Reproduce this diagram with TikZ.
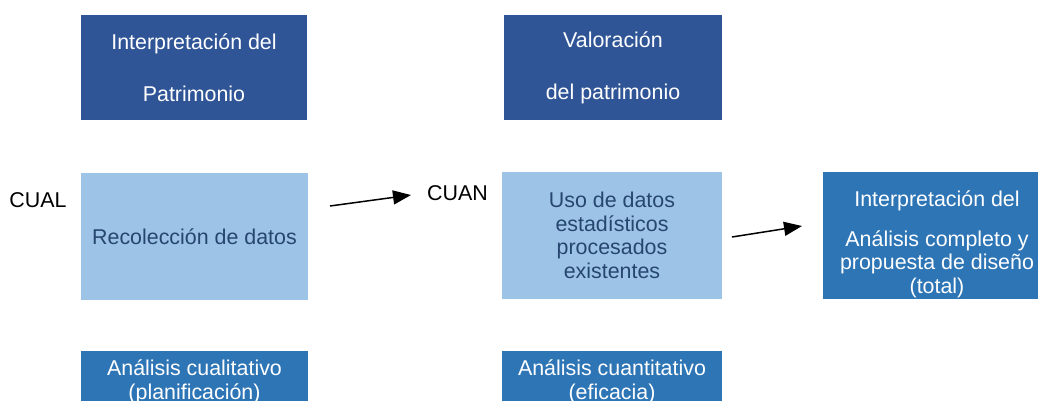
\documentclass[tikz,border=0pt]{standalone}
\usepackage{fontspec}
\setmainfont{Liberation Sans}
\usetikzlibrary{positioning}
\usetikzlibrary{arrows.meta}

\definecolor{darkbox}{RGB}{47,85,151}
\definecolor{lightbox}{RGB}{157,195,230}
\definecolor{midbox}{RGB}{46,117,182}
\definecolor{lighttext}{RGB}{38,70,112}

\begin{document}
\begin{tikzpicture}[x=1pt, y=-1pt,
		box/.style={rectangle, inner sep=0pt, align=center, text=white,
			font=\fontsize{21.4}{23.5}\selectfont},
		topbox/.style={box, fill=darkbox, minimum height=105pt},
		databox/.style={box, fill=lightbox, text=lighttext, minimum height=127pt},
		resbox/.style={box, fill=midbox, minimum height=127pt},
		lowbox/.style={box, fill=midbox, minimum height=62pt},
		tag/.style={font=\fontsize{21.4}{23.5}\selectfont, inner sep=0pt},
		flow/.style={line width=1.5pt, -{Triangle[length=18pt,width=14pt]}}]
				\useasboundingbox (0,0) rectangle (1038,401);
				
				\node[topbox, minimum width=226pt] (interp) at (194,67.5) {Interpretación del\\[28.5pt]Patrimonio};
				\node[topbox, minimum width=218pt] (valor) at (613,67.5) {Valoración\\[28.5pt]del patrimonio};
				
				\node[databox, minimum width=227pt] (recol) at (194.5,236.5) {Recolección de datos};
				\node[databox, minimum width=220pt] (uso) at (612,235.5) {Uso de datos\\estadísticos\\procesados\\existentes};
				\node[resbox, minimum width=228pt] (total) at (937,235) {\rule{0pt}{34pt}Interpretación del\\[16pt]Análisis completo y\\propuesta de diseño\\(total)};
				
				\node[lowbox, minimum width=227pt] (cual) at (194.5,382) {Análisis cualitativo\\(planificación)};
				\node[lowbox, minimum width=220pt] (cuan) at (612,382) {Análisis cuantitativo\\(eficacia)};
				
				\node[tag] (cualtag) at (38,200) {CUAL};
				\node[tag] (cuantag) at (457.5,193) {CUAN};
				
				\coordinate (a1) at (330,206);
				\coordinate (a2) at (411,195);
				\coordinate (b1) at (732,237);
				\coordinate (b2) at (802,226);
				\draw[flow] (a1) -- (a2);
				\draw[flow] (b1) -- (b2);
			\end{tikzpicture}
\end{document}
